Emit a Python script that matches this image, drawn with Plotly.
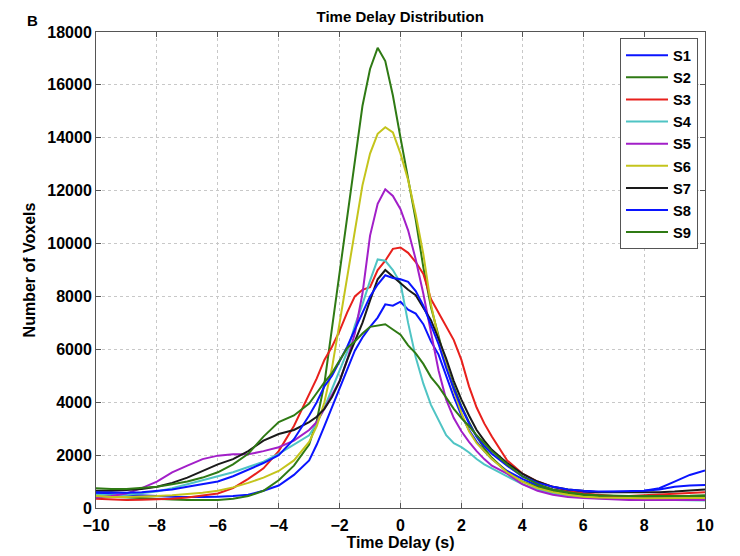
import plotly.graph_objects as go

# Time delay grid (s)
time_delay = [-10, -9.5, -9, -8.5, -8, -7.5, -7, -6.5, -6, -5.5, -5, -4.5, -4, -3.5,
              -3, -2.75, -2.5, -2.25, -2, -1.75, -1.5, -1.25, -1, -0.75, -0.5, -0.25,
              0, 0.25, 0.5, 0.75, 1, 1.25, 1.5, 1.75, 2, 2.25, 2.5, 2.75, 3,
              3.5, 4, 4.5, 5, 5.5, 6, 6.5, 7, 7.5, 8, 8.5, 9, 9.5, 10]

S1 = [550, 520, 500, 470, 450, 430, 420, 420, 430, 450, 500, 650, 850, 1250,
      1800, 2400, 3100, 3800, 4500, 5200, 5950, 6450, 6850, 7200, 7700, 7650,
      7800, 7500, 7350, 6950, 6300, 5800, 5000, 4200, 3500, 2950, 2500, 2150, 1850,
      1400, 1100, 850, 700, 620, 600, 600, 600, 620, 650, 750, 1000, 1250, 1420]
S2 = [450, 420, 400, 370, 350, 320, 300, 290, 300, 350, 450, 650, 1050, 1600,
      2400, 3300, 4700, 6800, 8900, 11000, 13000, 15200, 16600, 17400, 16900, 15600,
      14000, 12500, 10900, 9100, 7600, 6500, 5400, 4600, 3850, 3250, 2700, 2250, 1900,
      1350, 1000, 800, 650, 550, 480, 440, 420, 420, 410, 420, 430, 440, 450]
S3 = [350, 320, 300, 310, 320, 350, 400, 470, 550, 750, 1100, 1500, 2150, 3100,
      4300, 4900, 5600, 6100, 6700, 7400, 8000, 8250, 8350, 9000, 9350, 9800,
      9850, 9650, 9300, 8850, 7900, 7400, 6900, 6350, 5600, 4600, 3800, 3200, 2700,
      1800, 1300, 1000, 800, 650, 550, 500, 450, 450, 480, 520, 560, 580, 600]
S4 = [500, 480, 500, 550, 620, 750, 900, 1050, 1180, 1350, 1550, 1750, 2050, 2400,
      2750, 3200, 3800, 4500, 5200, 5900, 6900, 7700, 8600, 9400, 9350, 9000,
      8500, 7000, 5700, 4700, 3900, 3300, 2750, 2450, 2300, 2100, 1850, 1650, 1500,
      1200, 900, 700, 550, 450, 400, 370, 350, 330, 320, 310, 300, 290, 280]
S5 = [400, 450, 550, 750, 1000, 1350, 1600, 1850, 1980, 2030, 2030, 2150, 2300, 2550,
      2950, 3250, 3750, 4250, 4800, 5600, 6600, 8100, 10300, 11500, 12050, 11800,
      11300, 10500, 9400, 8100, 6600, 5200, 4100, 3400, 2900, 2500, 2150, 1850, 1600,
      1300, 900, 650, 500, 420, 380, 350, 320, 300, 300, 300, 320, 300, 300]
S6 = [450, 420, 420, 430, 450, 480, 520, 580, 650, 780, 950, 1150, 1400, 1800,
      2500, 3100, 4000, 5300, 7000, 8700, 10400, 12200, 13400, 14150, 14400, 14200,
      13400, 12400, 11100, 9600, 7700, 6400, 5400, 4450, 3600, 2900, 2450, 2150, 1850,
      1350, 1000, 750, 600, 500, 430, 400, 400, 380, 370, 380, 380, 380, 380]
S7 = [650, 650, 680, 720, 800, 950, 1150, 1400, 1650, 1850, 2150, 2550, 2800, 2950,
      3250, 3450, 3750, 4200, 4800, 5600, 6300, 7000, 7850, 8650, 9000, 8750,
      8500, 8250, 8050, 7600, 7100, 6400, 5650, 4800, 4100, 3500, 2950, 2550, 2200,
      1700, 1300, 1000, 800, 700, 650, 600, 600, 600, 580, 600, 620, 650, 700]
S8 = [600, 580, 580, 600, 650, 700, 800, 900, 1000, 1200, 1450, 1700, 2000, 2600,
      3500, 4000, 4600, 5000, 5550, 6100, 6750, 7400, 8000, 8450, 8800, 8700,
      8650, 8550, 8200, 7650, 6900, 6200, 5300, 4500, 3800, 3200, 2700, 2350, 2050,
      1600, 1200, 950, 800, 700, 650, 620, 620, 630, 650, 700, 800, 850, 870]
S9 = [750, 720, 720, 750, 800, 900, 1000, 1150, 1350, 1650, 2050, 2700, 3250, 3500,
      3950, 4350, 4750, 5100, 5600, 6050, 6300, 6600, 6850, 6900, 6950, 6750,
      6550, 6150, 5850, 5450, 4950, 4600, 4150, 3750, 3400, 3100, 2750, 2450, 2150,
      1650, 1200, 900, 700, 600, 520, 480, 460, 450, 450, 450, 450, 460, 480]

series_names = ["S1", "S2", "S3", "S4", "S5", "S6", "S7", "S8", "S9"]
series_values = [S1, S2, S3, S4, S5, S6, S7, S8, S9]
series_colors = ["#0a14ff", "#2f7a14", "#e8201c", "#4fc4c4", "#a21fc8",
                 "#c4c41c", "#1a1a1a", "#0a14ff", "#2f7a14"]

x_ticks = [-10, -8, -6, -4, -2, 0, 2, 4, 6, 8, 10]
y_ticks = [0, 2000, 4000, 6000, 8000, 10000, 12000, 14000, 16000, 18000]

FONT = "Liberation Sans, Arial, Helvetica, sans-serif"

fig = go.Figure()
for name, vals, col in zip(series_names, series_values, series_colors):
    fig.add_trace(go.Scatter(x=time_delay, y=vals, mode="lines", name=name,
                             line=dict(color=col, width=2)))

axis_common = dict(
    showline=True, linecolor="#555555", linewidth=1, mirror="allticks",
    ticks="inside", ticklen=5, tickcolor="#555555",
    showgrid=True, gridcolor="#c8c8c8", griddash="dot", gridwidth=1,
    zeroline=False,
    tickfont=dict(family=FONT, size=16, color="black", weight="bold"),
)

fig.update_layout(
    width=740, height=556,
    margin=dict(l=88, r=43, t=24, b=56, autoexpand=False),
    paper_bgcolor="white", plot_bgcolor="white",
    font=dict(family=FONT, color="black"),
    title=dict(text="Time Delay Distribution", x=0.53, xanchor="center",
               y=0.994, yanchor="top",
               font=dict(family=FONT, size=15, color="black", weight="bold")),
    xaxis=dict(range=[-10, 10], tickvals=x_ticks, automargin=False,
               ticklabelstandoff=3,
               title=dict(text="Time Delay (s)", standoff=1,
                          font=dict(family=FONT, size=16, color="black", weight="bold")),
               **axis_common),
    yaxis=dict(range=[0, 18000], tickvals=y_ticks, tickformat="d", automargin=False,
               title=dict(text="Number of Voxels", standoff=7,
                          font=dict(family=FONT, size=16, color="black", weight="bold")),
               **axis_common),
    legend=dict(x=0.9885, xanchor="right", y=0.987, yanchor="top",
                bgcolor="white", bordercolor="#555555", borderwidth=1,
                font=dict(family=FONT, size=14.7, color="black", weight="bold"),
                itemwidth=42, tracegroupgap=0),
    showlegend=True,
)

fig.add_annotation(text="B", xref="paper", yref="paper", x=-0.105, y=1.025,
                   xanchor="center", yanchor="middle", showarrow=False,
                   font=dict(family=FONT, size=15, color="black", weight="bold"))

fig.write_html("out.html")
